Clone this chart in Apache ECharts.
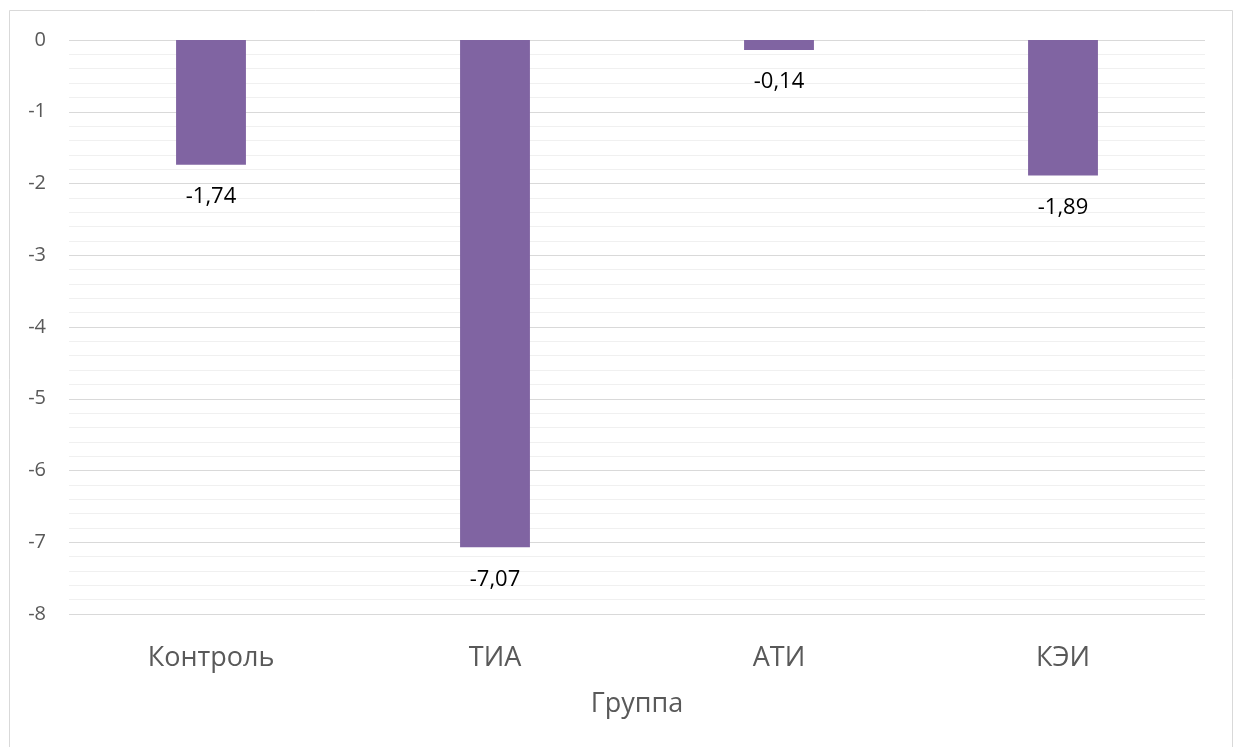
<!DOCTYPE html>
<html>
<head>
<meta charset="utf-8">
<script src="https://cdn.jsdelivr.net/npm/echarts@6/dist/echarts.min.js"></script>
<style>
  html, body { margin: 0; padding: 0; background: #ffffff; }
  #chart { width: 1238px; height: 747px; }
</style>
</head>
<body>
<div id="chart"></div>
<script>
// Groups and their values
const categories = ['Контроль', 'ТИА', 'АТИ', 'КЭИ'];
const values = [-1.74, -7.07, -0.14, -1.89];
const axisName = 'Группа';

const FONT = '"Open Sans", "Noto Sans", sans-serif';

const chart = echarts.init(document.getElementById('chart'), null, { renderer: 'canvas' });

chart.setOption({
  backgroundColor: '#ffffff',
  animation: false,
  graphic: [{
    type: 'rect',
    shape: { x: 9.5, y: 10.5, width: 1223, height: 760 },
    style: { fill: 'none', stroke: '#d9d9d9', lineWidth: 1 },
    silent: true
  }],
  grid: { left: 69, right: 33, top: 40, bottom: 133 },
  xAxis: {
    type: 'category',
    data: categories,
    position: 'bottom',
    axisLine: { show: false, onZero: false },
    axisTick: { show: false },
    axisLabel: { margin: 31, fontSize: 27, color: '#595959', fontFamily: FONT },
    name: axisName,
    nameLocation: 'middle',
    nameGap: 77,
    nameTextStyle: { fontSize: 27, color: '#595959', fontFamily: FONT },
    splitLine: { show: false }
  },
  yAxis: {
    type: 'value',
    min: -8,
    max: 0,
    interval: 1,
    axisLine: { show: false },
    axisTick: { show: false },
    axisLabel: { margin: 23, fontSize: 20, color: '#595959', fontFamily: FONT },
    splitLine: { show: true, lineStyle: { color: '#d9d9d9', width: 1 } },
    minorTick: { show: false, splitNumber: 5 },
    minorSplitLine: { show: true, lineStyle: { color: '#f0f0f0', width: 1 } }
  },
  series: [{
    type: 'bar',
    data: values,
    barWidth: '24.6%',
    itemStyle: { color: '#8064a2' },
    label: {
      show: true,
      position: 'bottom',
      distance: 21,
      fontSize: 22,
      color: '#000000',
      fontFamily: FONT,
      formatter: p => String(p.value).replace('.', ',')
    }
  }]
});
</script>
</body>
</html>
